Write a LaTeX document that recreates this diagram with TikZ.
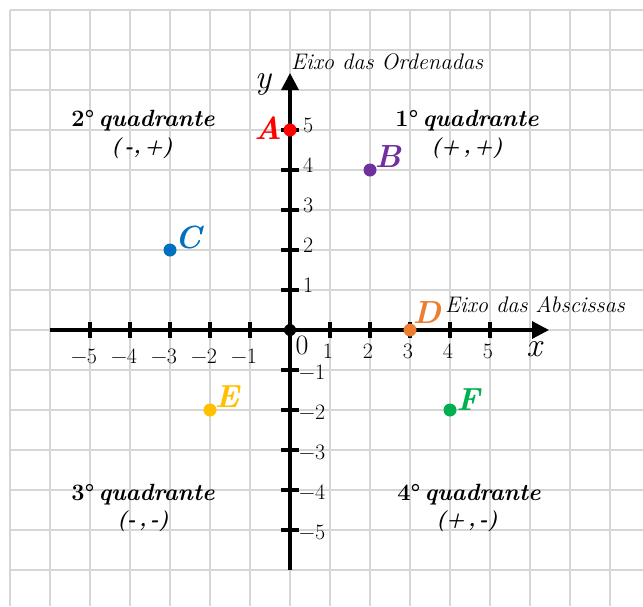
\documentclass[tikz,border=0pt]{standalone}
\usepackage{fontspec}
\usetikzlibrary{arrows.meta}
\definecolor{gridc}{HTML}{D6D6D6}
\definecolor{cA}{HTML}{FF0000}
\definecolor{cB}{HTML}{7030A0}
\definecolor{cC}{HTML}{0070C0}
\definecolor{cD}{HTML}{ED7D31}
\definecolor{cE}{HTML}{FFC000}
\definecolor{cF}{HTML}{00B050}
\newcommand\fsz[1]{\fontsize{#1}{#1}\selectfont}
\begin{document}
\begin{tikzpicture}[x=1pt,y=-1pt,
  gridline/.style={draw=gridc,line width=2.4pt},
  axis/.style={line width=3.2pt,-{Triangle[length=17pt,width=17pt]}},
  tickmark/.style={line width=3.2pt},
  ticklab/.style={font=\fsz{22},inner sep=0pt},
  pt/.style={circle,inner sep=0pt,minimum size=13pt},
  plab/.style={font=\fsz{32}\bfseries\itshape,inner sep=0pt},
  qlab/.style={font=\fsz{23.5}\bfseries\itshape,inner sep=0pt},
  slab/.style={font=\fsz{21}\bfseries\itshape,inner sep=0pt},
  axlab/.style={font=\fsz{22.5}\itshape,inner sep=0pt,anchor=west}]
\useasboundingbox (0,0) rectangle (643,606);
\fill[white] (0,0) rectangle (643,606);
% grid
\foreach \i in {0,...,15} \draw[gridline] (10+40*\i,10) -- (10+40*\i,606);
\foreach \j in {0,...,14} \draw[gridline] (10,10+40*\j) -- (643,10+40*\j);
% axes
\coordinate (xs) at (50,330);
\coordinate (xe) at (549,330);
\coordinate (ys) at (290,570);
\coordinate (ye) at (290,73);
\draw[axis] (xs) -- (xe);
\draw[axis] (ys) -- (ye);
% ticks
\foreach \m in {1,...,5} {
  \draw[tickmark] (290+40*\m,322) -- (290+40*\m,338);
  \draw[tickmark] (290-40*\m,322) -- (290-40*\m,338);
  \draw[tickmark] (281,330+40*\m) -- (299,330+40*\m);
  \draw[tickmark] (281,330-40*\m) -- (299,330-40*\m);
  \node[ticklab] (xp\m) at (288+40*\m,351) {\m};
  \node[ticklab] (xn\m) at (292-40*\m,356) {\llap{−}\m};
  \node[ticklab,anchor=west] (yp\m) at (303,325-40*\m) {\m};
  \node[ticklab,anchor=west] (yn\m) at (299,332+40*\m) {−\m};
}
\node[font=\fsz{28},inner sep=0pt] (zero) at (302,345) {0};
\node[font=\fsz{34}\itshape,inner sep=0pt] (ylab) at (263,84) {y};
\node[font=\fsz{34}\itshape,inner sep=0pt] (xlab) at (534,349) {x};
\node[axlab] (ord) at (291,62) {Eixo das Ordenadas};
\node[axlab] (abs) at (445,305) {Eixo das Abscissas};
% origin
\node[pt,fill=black,minimum size=12pt] (O) at (290,330) {};
% points
\node[pt,fill=cA] (A) at (290,130) {};
\node[pt,fill=cB] (B) at (370,170) {};
\node[pt,fill=cC] (C) at (170,250) {};
\node[pt,fill=cD] (D) at (410,330) {};
\node[pt,fill=cE] (E) at (210,410) {};
\node[pt,fill=cF] (F) at (450,410) {};
\node[plab,text=cA] (Al) at (268,128) {A};
\node[plab,text=cB] (Bl) at (388,157) {B};
\node[plab,text=cC] (Cl) at (188,238) {C};
\node[plab,text=cD] (Dl) at (427,313) {D};
\node[plab,text=cE] (El) at (227,397) {E};
\node[plab,text=cF] (Fl) at (468,400) {F};
% quadrants
\node[qlab] (q2a) at (143,121) {\upshape 2°\,\itshape quadrante};
\node[slab] (q2b) at (142,148) {(\,-,\,+)};
\node[qlab] (q1a) at (467,121) {\upshape 1°\,\itshape quadrante};
\node[slab] (q1b) at (467,148) {(+\,,\,+)};
\node[qlab] (q3a) at (143,495) {\upshape 3°\,\itshape quadrante};
\node[slab] (q3b) at (143,521) {(-\,,\,-)};
\node[qlab] (q4a) at (469,495) {\upshape 4°\,\itshape quadrante};
\node[slab] (q4b) at (467,521) {(+\,,\,-)};
\end{tikzpicture}
\end{document}
